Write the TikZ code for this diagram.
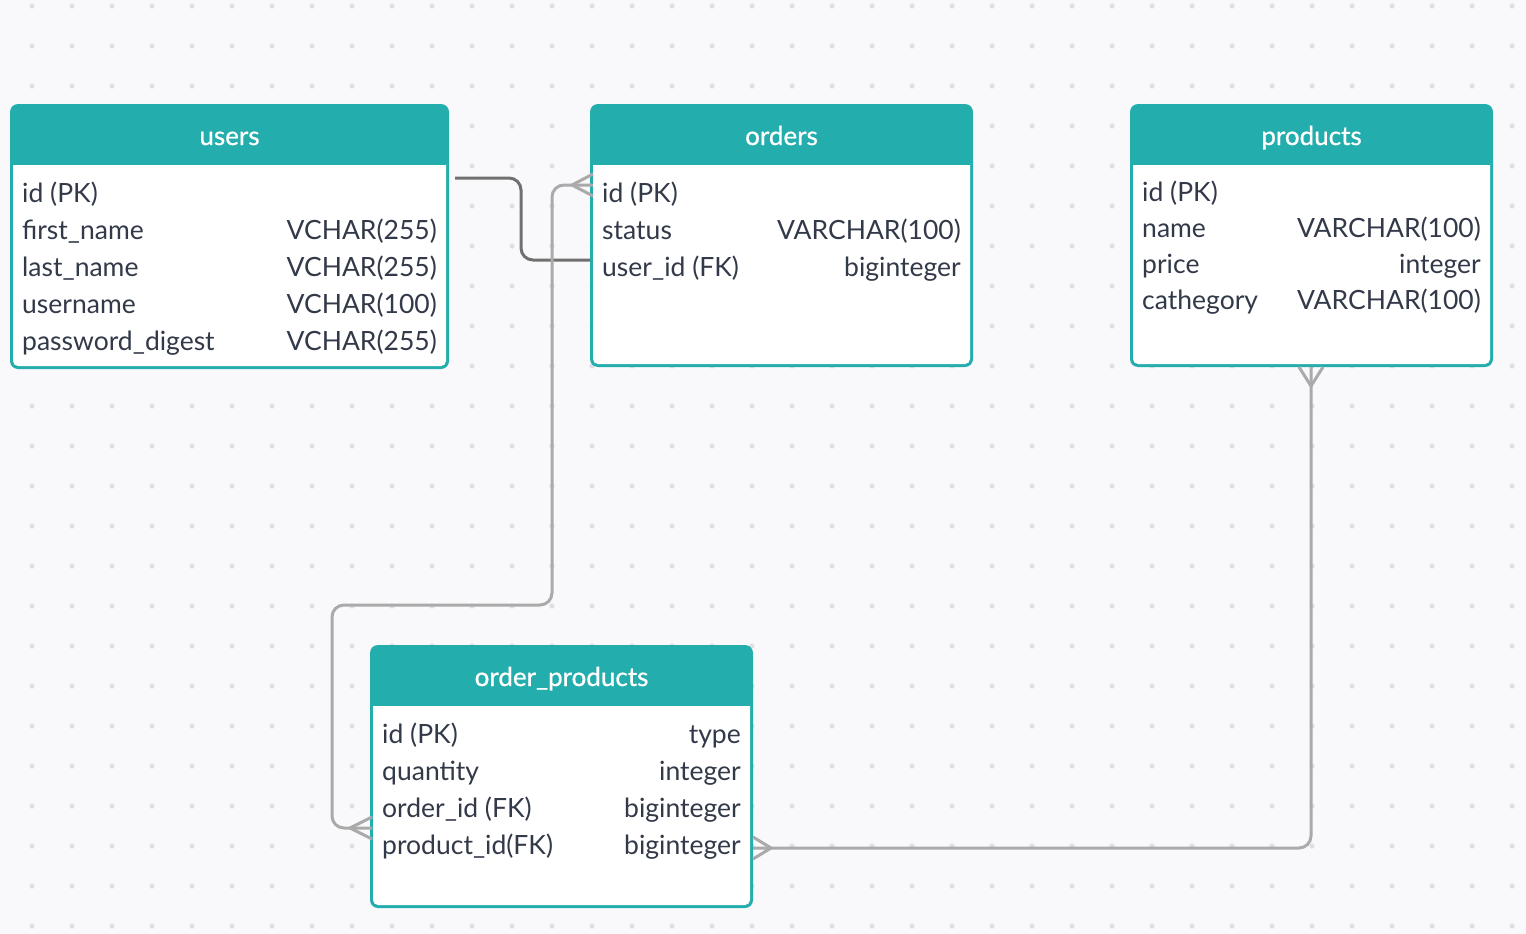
\documentclass[tikz,border=0pt]{standalone}
\usepackage{fontspec}
\setmainfont{Lato}
\newfontfamily\hdrfont[FakeBold=0.8]{Lato}
\usepackage{tikz}

\definecolor{tealhd}{RGB}{36,173,173}
\definecolor{bgpage}{RGB}{249,249,251}
\definecolor{griddot}{RGB}{222,222,228}
\definecolor{fldtext}{RGB}{50,57,72}
\definecolor{linkdark}{RGB}{112,112,112}
\definecolor{linklight}{RGB}{170,170,170}

\tikzset{
  hdr/.style={text=white, font=\hdrfont\fontsize{26}{30}\selectfont, inner sep=0, anchor=base},
  fld/.style={text=fldtext, font=\fontsize{26.5}{30}\selectfont, inner sep=0, anchor=base west},
  typ/.style={text=fldtext, font=\fontsize{26.5}{30}\selectfont, inner sep=0, anchor=base east},
  onelink/.style={draw=linkdark, line width=3pt, rounded corners=12pt},
  manylink/.style={draw=linklight, line width=3pt, rounded corners=12pt},
  crow/.style={draw=linklight, line width=3pt}
}

% table frame: left, top, right, bottom, name, title
\newcommand{\erdtable}[6]{
  \fill[tealhd, rounded corners=8pt] (#1,#2) rectangle (#3,#4);
  \fill[white, rounded corners=5pt] (#1+3,#2+55) rectangle (#3-3,#4-3);
  \fill[tealhd] (#1+3,#2+50) rectangle (#3-3,#2+61);
  \path (#1,#2) rectangle (#3,#4) node[pos=.5, inner sep=0] (#5) {};
  \node[hdr] (#5-title) at ({(#1+#3)/2},#2+41) {#6};
}

\begin{document}
\begin{tikzpicture}[x=1pt, y=-1pt]
\useasboundingbox (0,0) rectangle (1526,934);
\fill[bgpage] (0,0) rectangle (1526,934);
\foreach \gx in {32,72,...,1512}
  \foreach \gy in {6,46,...,926}
    \fill[griddot] (\gx,\gy) circle (2.6);

% tables
\erdtable{10}{104}{449}{369}{users}{users}
\erdtable{590}{104}{973}{367}{orders}{orders}
\erdtable{1130}{104}{1493}{367}{products}{products}
\erdtable{370}{645}{753}{908}{orderprod}{order\_products}

\foreach \n/\t [count=\i] in {id (PK)/, first\_name/VCHAR(255), last\_name/VCHAR(255),
    username/VCHAR(100), password\_digest/VCHAR(255)} {
  \node[fld] (users-f\i) at (22,165+37*\i) {\n};
  \node[typ] (users-t\i) at (437,165+37*\i) {\t};
}
\foreach \n/\t [count=\i] in {id (PK)/, status/VARCHAR(100), user\_id (FK)/biginteger} {
  \node[fld] (orders-f\i) at (602,165+37*\i) {\n};
  \node[typ] (orders-t\i) at (961,165+37*\i) {\t};
}
\foreach \n/\t [count=\i] in {id (PK)/, name/VARCHAR(100), price/integer,
    cathegory/VARCHAR(100)} {
  \node[fld] (products-f\i) at (1142,165+36*\i) {\n};
  \node[typ] (products-t\i) at (1481,165+36*\i) {\t};
}
\foreach \n/\t [count=\i] in {id (PK)/type, quantity/integer, order\_id (FK)/biginteger,
    product\_id(FK)/biginteger} {
  \node[fld] (orderprod-f\i) at (382,706+37*\i) {\n};
  \node[typ] (orderprod-t\i) at (741,706+37*\i) {\t};
}

% link ends
\coordinate (users-out) at (455,178);
\coordinate (orders-in) at (590,260);
\coordinate (orders-many) at (593,185);
\coordinate (orderprod-left) at (372,828);
\coordinate (products-many) at (1311,367);
\coordinate (orderprod-right) at (753,848);

% users -> orders
\draw[onelink] (users-out) -- ++(66,0) |- (orders-in);

% orders -> order_products
\draw[manylink] (orders-many) -- ++(-41,0) -- ++(0,420) -| ([xshift=-40pt]orderprod-left) -- (orderprod-left);
\draw[crow] (orders-many) ++(0,-11) -- ++(-21,11) -- ++(21,11);
\draw[crow] (orderprod-left) ++(0,-11) -- ++(-22,11) -- ++(22,11);

% products -> order_products
\draw[manylink] (products-many) |- (orderprod-right);
\draw[crow] (products-many) ++(-12,0) -- ++(12,19) -- ++(12,-19);
\draw[crow] (orderprod-right) ++(0,-11) -- ++(18,11) -- ++(-18,11);
\end{tikzpicture}
\end{document}
